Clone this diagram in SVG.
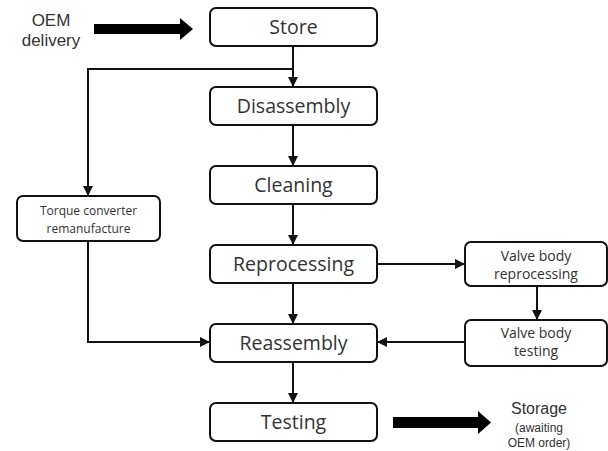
<svg xmlns="http://www.w3.org/2000/svg" width="608" height="451" viewBox="0 0 608 451">
<defs>
<style>
.box{fill:#fff;stroke:#111;stroke-width:2}
.lbl{font-family:"Open Sans","Noto Sans",sans-serif;font-size:19.5px;fill:#333;text-anchor:middle}
.sm{font-family:"Open Sans","Noto Sans",sans-serif;font-size:12px;fill:#333;text-anchor:middle}
.vb{font-family:"Open Sans","Noto Sans",sans-serif;font-size:14px;fill:#333;text-anchor:middle}
.ar{font-family:"Liberation Sans",Arial,sans-serif;fill:#333;text-anchor:middle}
.ln{fill:none;stroke:#111;stroke-width:2}
</style>
<marker id="ah" viewBox="0 0 10 10" refX="10" refY="5" markerWidth="5" markerHeight="5" orient="auto" markerUnits="strokeWidth">
<path d="M0,0 L10,5 L0,10 z" fill="#111"/>
</marker>
</defs>
<rect width="608" height="451" fill="#fff"/>
<g id="connectors">
<path class="ln" d="M293,46 V87" marker-end="url(#ah)"/>
<path class="ln" d="M293,69 H88 V196" marker-end="url(#ah)"/>
<path class="ln" d="M293,125 V166" marker-end="url(#ah)"/>
<path class="ln" d="M293,204 V245" marker-end="url(#ah)"/>
<path class="ln" d="M293,283 V324" marker-end="url(#ah)"/>
<path class="ln" d="M293,362 V403" marker-end="url(#ah)"/>
<path class="ln" d="M88,241 V342 H210" marker-end="url(#ah)"/>
<path class="ln" d="M377,264 H465" marker-end="url(#ah)"/>
<path class="ln" d="M537,286 V320" marker-end="url(#ah)"/>
<path class="ln" d="M465,342 H377" marker-end="url(#ah)"/>
<path d="M94,24 H180 V18 L193,29 L180,40 V34 H94 z" fill="#000"/>
<path d="M393,417 H478 V411 L491,422.5 L478,434 V428 H393 z" fill="#000"/>
</g>
<g id="oem"><text class="ar" font-size="17" x="51" y="26">OEM</text><text class="ar" font-size="17" x="51" y="46">delivery</text></g>
<g id="store"><rect class="box" x="210" y="8" width="167" height="38" rx="6"/><text class="lbl" x="293.5" y="34">Store</text></g>
<g id="disassembly"><rect class="box" x="210" y="87" width="167" height="38" rx="6"/><text class="lbl" x="293.5" y="113">Disassembly</text></g>
<g id="cleaning"><rect class="box" x="210" y="166" width="167" height="38" rx="6"/><text class="lbl" x="293.5" y="192">Cleaning</text></g>
<g id="reprocessing"><rect class="box" x="210" y="245" width="167" height="38" rx="6"/><text class="lbl" x="293.5" y="271">Reprocessing</text></g>
<g id="reassembly"><rect class="box" x="210" y="324" width="167" height="38" rx="6"/><text class="lbl" x="293.5" y="350">Reassembly</text></g>
<g id="testing"><rect class="box" x="210" y="403" width="167" height="38" rx="6"/><text class="lbl" x="293.5" y="429">Testing</text></g>
<g id="torque"><rect class="box" x="17" y="196" width="143" height="45" rx="6"/><text class="sm" x="88.5" y="215">Torque converter</text><text class="sm" x="88.5" y="233">remanufacture</text></g>
<g id="vbreproc"><rect class="box" x="465" y="242" width="142" height="44" rx="6"/><text class="vb" x="536" y="261">Valve body</text><text class="vb" x="536" y="279">reprocessing</text></g>
<g id="vbtest"><rect class="box" x="465" y="320" width="142" height="46" rx="6"/><text class="vb" x="536" y="338">Valve body</text><text class="vb" x="536" y="356">testing</text></g>
<g id="storage"><text class="ar" font-size="16" x="539" y="414">Storage</text><text class="ar" font-size="12" x="539" y="432">(awaiting</text><text class="ar" font-size="12" x="539" y="447">OEM order)</text></g>
</svg>
